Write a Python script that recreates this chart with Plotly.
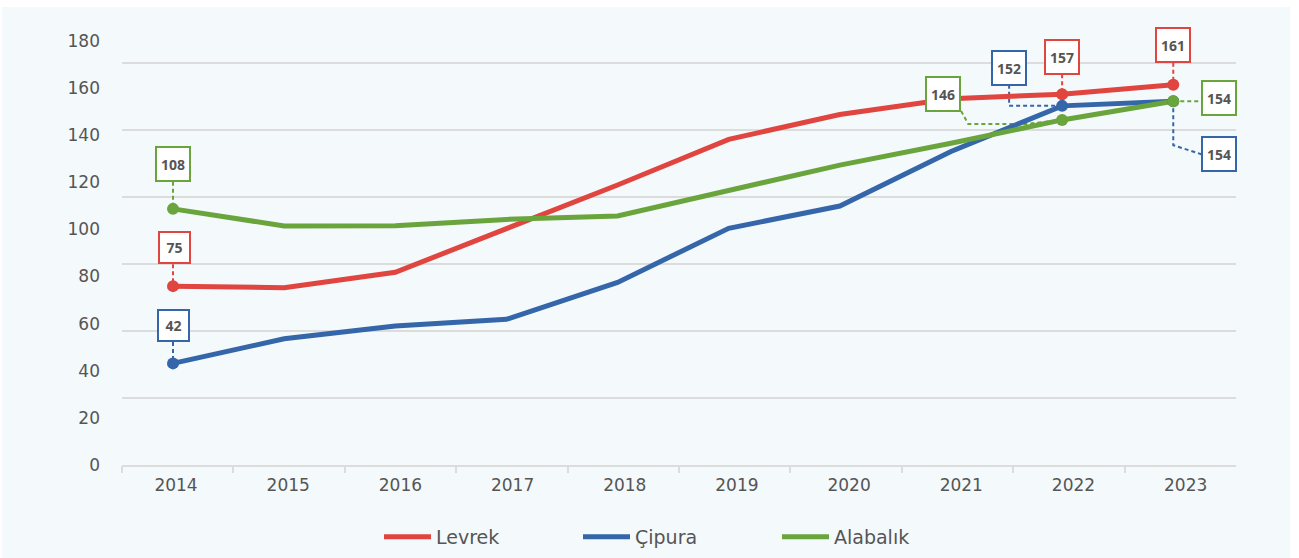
import plotly.graph_objects as go

# ---------------- data ----------------
years = [2014, 2015, 2016, 2017, 2018, 2019, 2020, 2021, 2022, 2023]
levrek = [75, 74.3, 80.9, 99.8, 118.2, 137.7, 148.3, 155, 157, 161]
cipura = [42, 52.5, 58, 60.8, 76.6, 99.7, 109.2, 132.5, 152, 154]
alabalik = [108, 100.7, 100.8, 103.5, 105, 116.1, 126.7, 136, 146, 154]
series_names = ["Levrek", "Çipura", "Alabalık"]
y_ticks = [0, 20, 40, 60, 80, 100, 120, 140, 160, 180]
labeled_idx = [0, 8, 9]   # points carrying a value flag

# ---------------- style ----------------
RED, BLUE, GREEN = "#E0453F", "#3466A9", "#6AA43C"
TXT = "#555555"
GRID = "#dcdcdc"
FONT = "DejaVu Sans"
FLAGFONT = "Open Sans"
colors = [RED, BLUE, GREEN]
values = [levrek, cipura, alabalik]

W, H = 1299, 558
L, R, T, B = 122, 63, 30, 93
pw, ph = W - L - R, H - T - B

fig = go.Figure()

# lines
for name, vals, c in zip(series_names, values, colors):
    fig.add_trace(go.Scatter(x=years, y=vals, name=name, mode="lines",
                             line=dict(color=c, width=5), xaxis="x", yaxis="y",
                             hoverinfo="skip"))
# markers on flagged points
for name, vals, c in zip(series_names, values, colors):
    sizes = [12 if i in labeled_idx else 0 for i in range(len(vals))]
    fig.add_trace(go.Scatter(x=years, y=vals, mode="markers", showlegend=False,
                             marker=dict(color=c, size=sizes, opacity=1, line=dict(width=0)),
                             xaxis="x", yaxis="y", hoverinfo="skip"))

# dummy traces so the helper axes exist
for xa, ya in [("x2", "y"), ("x3", "y"), ("x", "y2"), ("x", "y3")]:
    fig.add_trace(go.Scatter(x=[None], y=[None], xaxis=xa, yaxis=ya,
                             showlegend=False, hoverinfo="skip"))

# flags: (series index, point index, dx, dy, connector path relative to point, +y up)
flags = [
    (2, 0, 0, 45, "M0,27 L0,0"),
    (0, 0, 1, 38.5, "M0,22 L0,0"),
    (1, 0, 0, 38, "M0,21.5 L0,0"),
    (0, 8, 0, 37.5, "M0,20 L0,0"),
    (0, 9, 0, 40, "M0,22 L0,0"),
    (1, 8, -53, 38, "M-53,21 L-53,0 L0,0"),
    (2, 8, -119, 25.5, "M-101,9 L-94,-4 L-35,-4 L0,0"),
    (2, 9, 46, 3.5, "M0,0 L28,0"),
    (1, 9, 46, -53, "M0,0 L0,-44 L28,-53"),
]
shapes = []
annotations = []
# background panel
shapes.append(dict(type="rect", xref="paper", yref="paper", layer="below",
                   x0=(2 - L) / pw, x1=(1290 - L) / pw,
                   y0=(T + ph - H) / ph, y1=(T + ph - 7) / ph,
                   fillcolor="#F4F9FC", line=dict(width=0)))
for si, pi, dx, dy, path in flags:
    c = colors[si]
    v = values[si][pi]
    shapes.append(dict(type="path", xref="x", yref="y", xsizemode="pixel",
                       ysizemode="pixel", xanchor=years[pi], yanchor=v, path=path,
                       line=dict(color=c, width=2, dash="4px,3px"), layer="between"))
    txt = f"{v:g}"
    wbox = 32 if len(txt) > 2 else 29
    annotations.append(dict(x=years[pi], y=v, xref="x", yref="y", text=f"<b>{txt}</b>",
                            showarrow=False, xshift=dx, yshift=dy,
                            width=wbox, height=wbox, bgcolor="white", bordercolor=c,
                            borderwidth=2, borderpad=0,
                            font=dict(family=FLAGFONT, size=14, color=TXT)))

x_lo = 2014 - (173 - L) / 111.14
x_hi = x_lo + pw / 111.14
y_scale = 2.341
y_zero_px = 461.7

fig.update_layout(
    width=W, height=H, margin=dict(l=L, r=R, t=T, b=B, pad=0, autoexpand=False),
    paper_bgcolor="white", plot_bgcolor="rgba(0,0,0,0)",
    font=dict(family=FONT, color=TXT),
    showlegend=True,
    legend=dict(orientation="h", x=(379 - L) / pw, xanchor="left",
                y=(T + ph - 537) / ph, yanchor="middle",
                font=dict(family=FONT, size=19, color=TXT),
                itemwidth=47, entrywidth=137, bgcolor="rgba(0,0,0,0)"),
    xaxis=dict(range=[x_lo, x_hi], showticklabels=False, showgrid=False, zeroline=False,
               showline=True, linecolor=GRID, linewidth=2, ticks=""),
    xaxis2=dict(overlaying="x", anchor="y", range=[0, 10], tickvals=list(range(10)),
                ticks="outside", ticklen=7, tickwidth=2, tickcolor=GRID,
                showticklabels=False, showgrid=False, zeroline=False, showline=False),
    xaxis3=dict(overlaying="x", anchor="y", range=[0, 10],
                tickvals=[0.485 + k * 1.007 for k in range(len(years))],
                ticktext=[str(y) for y in years], ticks="", ticklabelstandoff=8,
                tickfont=dict(family=FONT, size=17, color=TXT),
                showgrid=False, zeroline=False, showline=False),
    yaxis=dict(range=[-(T + ph - y_zero_px) / y_scale, (y_zero_px - T) / y_scale],
               showticklabels=False, ticks="", showgrid=False, zeroline=False,
               showline=False),
    yaxis2=dict(overlaying="y", anchor="x", side="left", range=[0, ph / 2.356],
                tickvals=y_ticks, ticks="", showgrid=False, zeroline=False,
                showline=False, ticklabelstandoff=21,
                tickfont=dict(family=FONT, size=17, color=TXT)),
    yaxis3=dict(overlaying="y", anchor="x", range=[0, ph / 67.0], tick0=0, dtick=1,
                showgrid=True, gridcolor=GRID, gridwidth=2, showticklabels=False,
                zeroline=False, showline=False, ticks=""),
    shapes=shapes, annotations=annotations,
)

fig.write_html("out.html")
